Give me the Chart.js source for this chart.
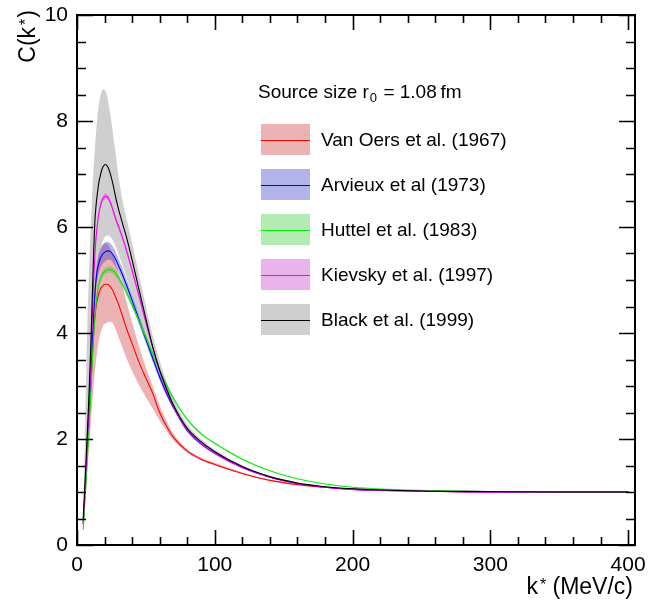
<!DOCTYPE html>
<html><head><meta charset="utf-8">
<script src="https://cdn.jsdelivr.net/npm/chart.js@4/dist/chart.umd.min.js"></script>
<style>html,body{margin:0;padding:0;background:#fff}canvas{display:block}</style>
</head><body>
<canvas id="c" width="648" height="605"></canvas>
<script>
// ---------------- DATA ----------------
const kValues = [4.5,5.5,7,8.5,10,11,12,13,14,15,16,17,18,19,20.5,22,24,26,28,30,33,36,40,45,50,55,60,65,70,80,90,100,120,140,160,180,200,250,300,350,400];

const seriesNames = ["Van Oers et al. (1967)","Arvieux et al (1973)","Huttel et al. (1983)","Kievsky et al. (1997)","Black et al. (1999)"];
const xTickValues = [0,100,200,300,400];
const yTickValues = [0,2,4,6,8,10];
const legendTitle = ["Source size r","0"," = 1.08\u2009fm"];

const vanOers     = [0.4,0.85,1.55,2.25,3.0,3.5,3.95,4.3,4.52,4.66,4.76,4.83,4.87,4.9,4.92,4.92,4.88,4.8,4.68,4.55,4.32,4.08,3.8,3.45,3.15,2.86,2.5,2.24,2.03,1.77,1.62,1.52,1.35,1.22,1.14,1.09,1.055,1.02,1.0,1.0,1.0];
const vanOersHigh = [0.5,1.0,1.85,2.7,3.55,4.1,4.55,4.9,5.15,5.33,5.46,5.56,5.62,5.67,5.69,5.68,5.6,5.48,5.32,5.15,4.88,4.58,4.2,3.75,3.35,3.0,2.63,2.34,2.1,1.81,1.65,1.55,1.37,1.23,1.15,1.1,1.06,1.02,1.0,1.0,1.0];
const vanOersLow  = [0.3,0.65,1.2,1.75,2.3,2.65,2.98,3.27,3.52,3.72,3.88,4.0,4.08,4.14,4.18,4.2,4.21,4.18,4.07,3.93,3.72,3.52,3.28,3.02,2.79,2.57,2.35,2.15,1.98,1.74,1.6,1.5,1.34,1.21,1.13,1.08,1.05,1.02,1.0,1.0,1.0];

const arvieux     = [0.4,0.85,1.6,2.35,3.15,3.75,4.3,4.75,5.05,5.22,5.33,5.41,5.46,5.5,5.53,5.55,5.54,5.48,5.39,5.28,5.1,4.9,4.62,4.25,3.88,3.52,3.17,2.86,2.6,2.16,1.91,1.73,1.46,1.28,1.16,1.09,1.05,1.02,1.0,1.0,1.0];
const arvieuxHigh = [0.45,0.92,1.7,2.48,3.3,3.9,4.46,4.92,5.22,5.4,5.51,5.59,5.64,5.68,5.71,5.72,5.7,5.63,5.53,5.41,5.22,5.01,4.72,4.34,3.96,3.59,3.23,2.91,2.64,2.19,1.93,1.75,1.47,1.29,1.17,1.1,1.06,1.02,1.01,1.0,1.0];
const arvieuxLow  = [0.35,0.78,1.5,2.22,3.0,3.6,4.14,4.58,4.88,5.04,5.15,5.23,5.28,5.32,5.35,5.38,5.38,5.33,5.25,5.15,4.98,4.79,4.52,4.16,3.8,3.45,3.11,2.81,2.56,2.13,1.89,1.71,1.45,1.27,1.15,1.08,1.04,1.01,1.0,1.0,1.0];

const huttel      = [0.3,0.7,1.4,2.1,2.85,3.4,3.9,4.3,4.6,4.8,4.93,5.02,5.08,5.13,5.17,5.19,5.2,5.18,5.13,5.05,4.92,4.76,4.53,4.23,3.92,3.6,3.3,3.02,2.77,2.37,2.1,1.92,1.62,1.4,1.25,1.15,1.09,1.03,1.01,1.0,1.0];
const huttelHigh  = [0.33,0.74,1.45,2.16,2.91,3.46,3.96,4.36,4.66,4.86,4.99,5.08,5.14,5.19,5.23,5.25,5.26,5.24,5.19,5.11,4.98,4.82,4.59,4.28,3.97,3.65,3.34,3.06,2.8,2.39,2.12,1.93,1.63,1.4,1.25,1.15,1.09,1.03,1.01,1.0,1.0];
const huttelLow   = [0.27,0.66,1.35,2.04,2.79,3.34,3.84,4.24,4.54,4.74,4.87,4.96,5.02,5.07,5.11,5.13,5.14,5.12,5.07,4.99,4.86,4.7,4.47,4.18,3.87,3.55,3.26,2.98,2.74,2.35,2.08,1.91,1.61,1.4,1.25,1.15,1.09,1.03,1.01,1.0,1.0];

const kievsky     = [0.45,0.9,1.7,2.5,3.45,4.2,4.95,5.5,5.85,6.1,6.28,6.4,6.49,6.54,6.58,6.57,6.48,6.33,6.16,6.02,5.8,5.55,5.18,4.7,4.2,3.72,3.28,2.92,2.62,2.17,1.92,1.73,1.46,1.28,1.16,1.09,1.05,1.02,1.0,1.0,1.0];
const kievskyHigh = [0.55,1.0,1.8,2.6,3.53,4.27,5.01,5.55,5.9,6.15,6.33,6.45,6.54,6.59,6.63,6.62,6.53,6.38,6.21,6.07,5.85,5.6,5.23,4.74,4.24,3.75,3.31,2.94,2.64,2.18,1.93,1.74,1.47,1.28,1.16,1.09,1.05,1.02,1.0,1.0,1.0];
const kievskyLow  = [0.35,0.8,1.6,2.4,3.37,4.13,4.89,5.45,5.8,6.05,6.23,6.35,6.44,6.49,6.53,6.52,6.43,6.28,6.11,5.97,5.75,5.5,5.13,4.66,4.16,3.69,3.25,2.9,2.6,2.16,1.91,1.72,1.45,1.28,1.16,1.09,1.05,1.02,1.0,1.0,1.0];

const black       = [0.5,1.0,1.85,2.7,3.75,4.6,5.45,6.12,6.45,6.68,6.86,6.98,7.08,7.14,7.18,7.15,7.02,6.82,6.57,6.35,6.07,5.8,5.38,4.82,4.27,3.74,3.3,2.95,2.64,2.2,1.95,1.76,1.48,1.29,1.17,1.1,1.06,1.02,1.01,1.0,1.0];
const blackHigh   = [0.7,1.7,3.6,5.0,6.0,6.6,7.1,7.5,7.85,8.12,8.33,8.47,8.56,8.6,8.57,8.45,8.15,7.78,7.38,6.98,6.5,6.15,5.7,5.1,4.5,3.95,3.48,3.08,2.75,2.28,2.0,1.8,1.5,1.3,1.18,1.11,1.07,1.02,1.01,1.0,1.0];
const blackLow    = [0.4,0.8,1.5,2.2,2.95,3.5,4.0,4.45,4.85,5.15,5.38,5.55,5.67,5.75,5.82,5.84,5.82,5.75,5.64,5.5,5.28,5.05,4.72,4.3,3.9,3.52,3.17,2.86,2.58,2.14,1.9,1.72,1.46,1.28,1.16,1.09,1.05,1.02,1.0,1.0,1.0];

// ---------------- STYLE ----------------
const FONT = '"Liberation Sans", Arial, Helvetica, sans-serif';
const lineColors = ['#ff0000','#0000ff','#00ee00','#ff00ff','#000000'];
const bandColors = ['rgba(200,45,45,0.36)','rgba(45,45,200,0.36)','rgba(45,200,45,0.36)','rgba(200,45,200,0.36)','rgba(125,125,125,0.37)'];
const centers = [vanOers, arvieux, huttel, kievsky, black];
const highs = [vanOersHigh, arvieuxHigh, huttelHigh, kievskyHigh, blackHigh];
const lows = [vanOersLow, arvieuxLow, huttelLow, kievskyLow, blackLow];

const pts = arr => arr.map((y,i)=>({x:kValues[i], y}));
const datasets = [];
const lineOrder = [4,3,2,1,0]; // black on top
centers.forEach((c,i)=>{
  datasets.push({label:seriesNames[i], data:pts(c), borderColor:lineColors[i], borderWidth:1.1,
    pointRadius:0, fill:false, cubicInterpolationMode:'monotone', order:lineOrder[i]});
});
const bandOrder = [13,12,11,10,14];
highs.forEach((h,i)=>{
  datasets.push({label:seriesNames[i]+' hi', data:pts(h), borderColor:'transparent', borderWidth:0,
    pointRadius:0, fill:false, cubicInterpolationMode:'monotone', order:bandOrder[i]});
  datasets.push({label:seriesNames[i]+' lo', data:pts(lows[i]), borderColor:'transparent', borderWidth:0,
    pointRadius:0, fill:'-1', backgroundColor:bandColors[i], cubicInterpolationMode:'monotone', order:bandOrder[i]});
});

const decor = {
  id:'decor',
  afterDatasetsDraw(chart){
    const {ctx, chartArea:a, scales:{x,y}} = chart;
    ctx.save();
    ctx.strokeStyle='#000'; ctx.lineWidth=1.6;
    ctx.beginPath();
    for(let v=0; v<=405; v+=20){
      const p = Math.round(x.getPixelForValue(v))+0.5;
      const L = (v%100===0)?15:8;
      ctx.moveTo(p,a.bottom); ctx.lineTo(p,a.bottom-L);
      ctx.moveTo(p,a.top); ctx.lineTo(p,a.top+L);
    }
    for(let v=0; v<=10.001; v+=0.5){
      const p = Math.round(y.getPixelForValue(v))+0.5;
      const L = (Math.abs(v%2)<1e-6)?16:9;
      ctx.moveTo(a.left,p); ctx.lineTo(a.left+L,p);
      ctx.moveTo(a.right,p); ctx.lineTo(a.right-L,p);
    }
    ctx.stroke();
    ctx.lineWidth=2;
    ctx.strokeRect(a.left,a.top,a.right-a.left,a.bottom-a.top);

    // axis titles
    ctx.fillStyle='#000';
    ctx.textBaseline='alphabetic';
    const big='23px '+FONT, small='16px '+FONT;
    ctx.font=big; const wk=ctx.measureText('k').width; const wr=ctx.measureText(' (MeV/c)').width;
    ctx.font=small; const ws=ctx.measureText('*').width;
    let xr=633, bl=594;
    let x0 = xr-(wk+2+ws+wr);
    ctx.font=big; ctx.textAlign='left'; ctx.fillText('k',x0,bl);
    ctx.font=small; ctx.fillText('*',x0+wk+2,bl-4);
    ctx.font=big; ctx.fillText(' (MeV/c)',x0+wk+2+ws,bl);

    // y title: C(k*) rotated
    ctx.save();
    ctx.translate(35,10);
    ctx.rotate(-Math.PI/2);
    ctx.font=big; const w1=ctx.measureText('C(k').width, w3=ctx.measureText(')').width;
    ctx.font=small; const w2=ctx.measureText('*').width;
    let u=-(w1+2+w2+1+w3);
    ctx.font=big; ctx.fillText('C(k',u,0); u+=w1+2;
    ctx.font=small; ctx.fillText('*',u,-4); u+=w2+1;
    ctx.font=big; ctx.fillText(')',u,0);
    ctx.restore();

    // legend
    ctx.font='19px '+FONT;
    ctx.textBaseline='middle';
    let tx=258, ty=93;
    ctx.fillText(legendTitle[0],tx,ty); tx+=ctx.measureText(legendTitle[0]).width+1;
    ctx.font='13px '+FONT; ctx.fillText(legendTitle[1],tx,ty+5); tx+=ctx.measureText(legendTitle[1]).width+1;
    ctx.font='19px '+FONT; ctx.fillText(legendTitle[2],tx,ty);
    const rows=[139.5,184.5,229.5,274.5,319.5];
    seriesNames.forEach((n,i)=>{
      const cy=rows[i];
      ctx.fillStyle=bandColors[i];
      ctx.fillRect(261,cy-15.5,49,31);
      ctx.strokeStyle=lineColors[i]; ctx.lineWidth=1.1;
      ctx.beginPath(); ctx.moveTo(261,Math.round(cy)+0.5); ctx.lineTo(310,Math.round(cy)+0.5); ctx.stroke();
      ctx.fillStyle='#000'; ctx.font='19px '+FONT;
      ctx.fillText(n,321,cy+1);
    });
    ctx.restore();
  }
};

new Chart(document.getElementById('c'),{
  type:'line',
  data:{datasets},
  options:{
    responsive:false, animation:false, devicePixelRatio:1,
    layout:{padding:{left:0,top:15,right:13,bottom:0}},
    plugins:{legend:{display:false}, tooltip:{enabled:false}, filler:{propagate:false}},
    elements:{line:{borderCapStyle:'round'}},
    scales:{
      x:{type:'linear', min:0, max:405,
        afterBuildTicks:s=>{s.ticks=xTickValues.map(v=>({value:v}));},
        afterFit:s=>{s.height=60; s.paddingLeft=0; s.paddingRight=0; s.paddingTop=0; s.paddingBottom=0;},
        grid:{display:false, drawTicks:false}, border:{display:false},
        ticks:{color:'#000', font:{family:FONT,size:21}, padding:8, maxRotation:0, autoSkip:false}},
      y:{type:'linear', min:0, max:10,
        afterBuildTicks:s=>{s.ticks=yTickValues.map(v=>({value:v}));},
        afterFit:s=>{s.width=77; s.paddingLeft=0; s.paddingRight=0; s.paddingTop=0; s.paddingBottom=0;},
        grid:{display:false, drawTicks:false}, border:{display:false},
        ticks:{color:'#000', font:{family:FONT,size:21}, padding:9, autoSkip:false}}
    }
  },
  plugins:[decor]
});
</script>
</body></html>
